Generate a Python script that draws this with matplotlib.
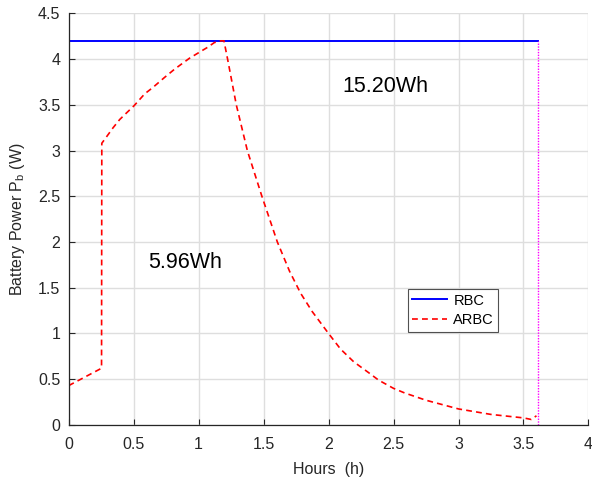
import matplotlib
matplotlib.use("Agg")
import matplotlib.pyplot as plt

plt.rcParams['font.family'] = ['Liberation Sans', 'DejaVu Sans']

# RBC: constant power until end time
rbc_x = [0.0, 3.615]
rbc_y = [4.2, 4.2]

# ARBC curve
arbc_x = [0.0, 0.253, 0.255, 0.291, 0.342, 0.393, 0.444, 0.503, 0.585,
          0.648, 0.738, 0.815, 0.93, 1.0, 1.07, 1.12, 1.17, 1.195,
          1.223, 1.29, 1.375, 1.487, 1.606, 1.70, 1.785, 1.874, 2.0,
          2.092, 2.194, 2.31, 2.385, 2.5, 2.585, 2.75, 3.0, 3.25, 3.5,
          3.56, 3.60]
arbc_y = [0.43, 0.62, 3.08, 3.15, 3.25, 3.34, 3.41, 3.49, 3.62,
          3.69, 3.80, 3.89, 4.01, 4.07, 4.13, 4.18, 4.2, 4.2,
          4.0, 3.5, 3.0, 2.5, 2.0, 1.68, 1.44, 1.24, 1.0,
          0.83, 0.69, 0.57, 0.49, 0.40, 0.35, 0.27, 0.175, 0.115, 0.077,
          0.06, 0.10]

end_x = [3.615, 3.615]
end_y = [0.0, 4.2]

labels = ["RBC", "ARBC"]
energy_texts = ["15.20Wh", "5.96Wh"]
energy_pos = [(2.104, 3.70), (0.61, 1.78)]

fig = plt.figure(figsize=(5.92, 4.78), dpi=100)
ax = fig.add_axes([0.116, 0.111, 0.878, 0.861])

ax.plot(rbc_x, rbc_y, color='#0000ff', lw=1.4, label=labels[0])
ax.plot(arbc_x, arbc_y, color='#ff0000', lw=1.2, ls=(0, (3.5, 2.5)), label=labels[1])
ax.plot(end_x, end_y, color='#ff00ff', lw=1.0, ls=(0, (1, 1)))

for t, (x, y) in zip(energy_texts, energy_pos):
    ax.text(x, y, t, fontsize=15.5, ha='left', va='center')

ax.set_xlim(0, 4)
ax.set_ylim(0, 4.5)
ax.set_xticks([0, 0.5, 1, 1.5, 2, 2.5, 3, 3.5, 4])
ax.set_xticklabels(['0', '0.5', '1', '1.5', '2', '2.5', '3', '3.5', '4'])
ax.set_yticks([0, 0.5, 1, 1.5, 2, 2.5, 3, 3.5, 4, 4.5])
ax.set_yticklabels(['0', '0.5', '1', '1.5', '2', '2.5', '3', '3.5', '4', '4.5'])
ax.grid(True, color='#dedede', lw=1.0)
ax.set_axisbelow(True)
ax.spines['top'].set_visible(False)
ax.spines['right'].set_visible(False)
for s in ['left', 'bottom']:
    ax.spines[s].set_color('#262626')
    ax.spines[s].set_linewidth(0.9)
ax.tick_params(direction='in', length=4, labelsize=11.5, colors='#262626')
ax.tick_params(axis='x', pad=9)
ax.tick_params(axis='y', pad=6)

ax.set_xlabel('Hours  (h)', fontsize=11.5, color='#262626', labelpad=7)
ax.set_ylabel('Battery Power P$_\\mathregular{b}$ (W)', fontsize=11.5, color='#262626', labelpad=8)

leg = ax.legend(loc='upper left', bbox_to_anchor=(0.653, 0.330), fontsize=10.5,
                frameon=True, fancybox=False, edgecolor='#262626',
                handlelength=2.4, borderpad=0.3, labelspacing=0.4,
                handletextpad=0.4, borderaxespad=0)
leg.get_frame().set_linewidth(0.8)

fig.savefig('out.png', dpi=100)
